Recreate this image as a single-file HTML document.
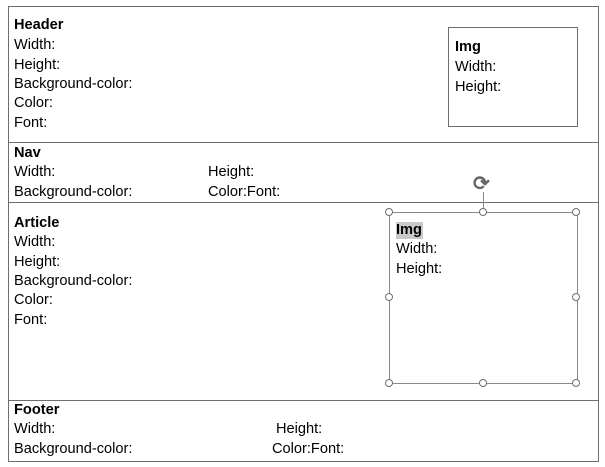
<!DOCTYPE html>
<html><head><meta charset="utf-8"><style>
body{margin:0;width:605px;height:467px;background:#fff;position:relative;overflow:hidden;font-family:"Liberation Sans",sans-serif;font-size:14.6px;color:#000}
.t{position:absolute;white-space:nowrap;line-height:17px}
.b{font-weight:bold}
.hl{position:absolute;left:8px;width:590px;height:1px;background:#6e6e6e}
.box{position:absolute;border:1px solid #6e6e6e}
.h{position:absolute;width:6px;height:6px;border:1px solid #6e6e6e;border-radius:50%;background:#fff}
</style></head><body>
<div style="position:absolute;left:8px;top:6px;width:589px;height:454px;border:1px solid #6e6e6e"></div>
<div class="hl" style="top:142px"></div>
<div class="hl" style="top:202px"></div>
<div class="hl" style="top:400px"></div>

<div class="t b" style="left:14px;top:17px">Header</div>
<div class="t" style="left:14px;top:37px">Width:</div>
<div class="t" style="left:14px;top:57px">Height:</div>
<div class="t" style="left:14px;top:76px">Background-color:</div>
<div class="t" style="left:14px;top:95px">Color:</div>
<div class="t" style="left:14px;top:115px">Font:</div>

<div class="box" style="left:448px;top:27px;width:128px;height:98px"></div>
<div class="t b" style="left:455px;top:39px">Img</div>
<div class="t" style="left:455px;top:59px">Width:</div>
<div class="t" style="left:455px;top:79px">Height:</div>

<div class="t b" style="left:14px;top:145px">Nav</div>
<div class="t" style="left:14px;top:164px">Width:</div>
<div class="t" style="left:14px;top:184px">Background-color:</div>
<div class="t" style="left:208px;top:164px">Height:</div>
<div class="t" style="left:208px;top:184px">Color:Font:</div>

<div class="t b" style="left:14px;top:215px">Article</div>
<div class="t" style="left:14px;top:234px">Width:</div>
<div class="t" style="left:14px;top:254px">Height:</div>
<div class="t" style="left:14px;top:273px">Background-color:</div>
<div class="t" style="left:14px;top:292px">Color:</div>
<div class="t" style="left:14px;top:312px">Font:</div>

<div class="box" style="left:389px;top:212px;width:187px;height:170px;border-color:#8a8a8a"></div>
<div style="position:absolute;left:483px;top:192px;width:1px;height:20px;background:#8a8a8a"></div>
<div class="t" style="left:473px;top:173px;font-size:20px;color:#666;line-height:22px;font-weight:bold">⟳</div>
<div class="h" style="left:385px;top:208px"></div>
<div class="h" style="left:479px;top:208px"></div>
<div class="h" style="left:572px;top:208px"></div>
<div class="h" style="left:385px;top:293px"></div>
<div class="h" style="left:572px;top:293px"></div>
<div class="h" style="left:385px;top:379px"></div>
<div class="h" style="left:479px;top:379px"></div>
<div class="h" style="left:572px;top:379px"></div>
<div class="t b" style="left:396px;top:222px;background:#c8c8c8;padding-right:1px">Img</div>
<div class="t" style="left:396px;top:241px">Width:</div>
<div class="t" style="left:396px;top:261px">Height:</div>

<div class="t b" style="left:14px;top:402px">Footer</div>
<div class="t" style="left:14px;top:421px">Width:</div>
<div class="t" style="left:14px;top:441px">Background-color:</div>
<div class="t" style="left:276px;top:421px">Height:</div>
<div class="t" style="left:272px;top:441px">Color:Font:</div>
</body></html>
